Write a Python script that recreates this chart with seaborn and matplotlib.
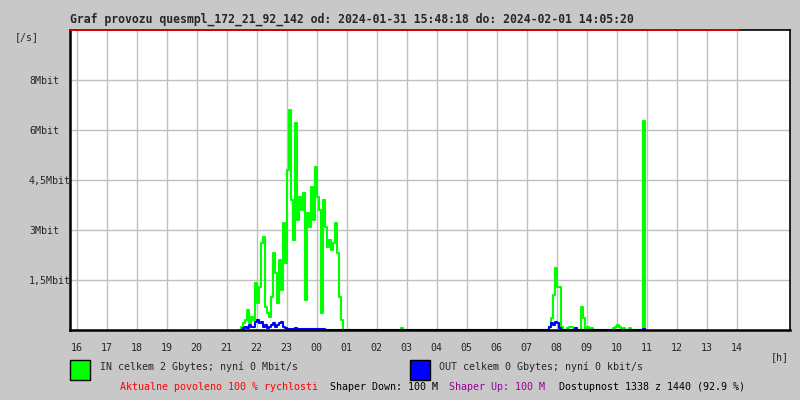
import seaborn as sns
import matplotlib.pyplot as plt
from matplotlib.patches import Rectangle
import pandas as pd

# traffic values in Mbit/s, one sample every 4 minutes
period_start = "2024-01-31 15:48"
period_end = "2024-02-01 14:04"

night_start = "2024-01-31 21:28"
in_night = [0.1, 0.2, 0.3, 0.6, 0.2, 0.4, 0.3, 1.4, 0.8, 1.3,
            2.6, 2.8, 0.7, 0.5, 0.4, 1.0, 2.3, 1.7, 0.8, 2.1,
            1.2, 3.2, 2.0, 4.8, 6.6, 3.9, 2.7, 6.2, 3.3, 4.0,
            3.6, 4.1, 0.9, 3.5, 3.1, 4.3, 3.3, 4.9, 4.0, 3.6,
            0.5, 3.9, 3.1, 2.5, 2.7, 2.4, 2.6, 3.2, 2.3, 1.0,
            0.3, 0.0]
out_night = [0.0, 0.05, 0.1, 0.05, 0.15, 0.1, 0.1, 0.25, 0.3, 0.2,
             0.25, 0.1, 0.15, 0.05, 0.1, 0.15, 0.2, 0.1, 0.15, 0.2,
             0.25, 0.1, 0.05, 0.03, 0.03, 0.03, 0.03, 0.05, 0.03, 0.03,
             0.03, 0.03, 0.03, 0.03, 0.03, 0.03, 0.03, 0.03, 0.03, 0.03,
             0.03, 0.03, 0.0, 0.0, 0.0, 0.0, 0.0, 0.0, 0.0, 0.0,
             0.0, 0.0]

blip_start = "2024-02-01 02:48"
in_blip = [0.05, 0.0]
out_blip = [0.0, 0.0]

morning_start = "2024-02-01 07:44"
in_morning = [0.1, 0.35, 1.05, 1.87, 1.3, 1.3, 0.1, 0.0, 0.0, 0.05,
              0.08, 0.1, 0.05, 0.03, 0.0, 0.0, 0.7, 0.35, 0.0, 0.1,
              0.0, 0.05, 0.0]
out_morning = [0.1, 0.2, 0.15, 0.25, 0.2, 0.05, 0.0, 0.0, 0.0, 0.0,
               0.0, 0.0, 0.0, 0.05, 0.0, 0.0, 0.0, 0.0, 0.0, 0.0,
               0.0, 0.0, 0.0]

late_start = "2024-02-01 09:52"
in_late = [0.05, 0.1, 0.15, 0.08, 0.0, 0.05, 0.0, 0.0, 0.05, 0.0,
           0.0, 0.0, 0.0, 0.0, 0.0, 6.27, 0.0]
out_late = [0.0, 0.0, 0.0, 0.0, 0.0, 0.0, 0.0, 0.0, 0.0, 0.0,
            0.0, 0.0, 0.0, 0.0, 0.0, 0.03, 0.0]

hour_labels = ["16", "17", "18", "19", "20", "21", "22", "23", "00", "01", "02",
               "03", "04", "05", "06", "07", "08", "09", "10", "11", "12", "13", "14"]
y_ticks = [1.5, 3, 4.5, 6, 7.5]
y_labels = ["1,5Mbit", "3Mbit", "4,5Mbit", "6Mbit", "8Mbit"]
y_max = 9

title = "Graf provozu quesmpl_172_21_92_142 od: 2024-01-31 15:48:18 do: 2024-02-01 14:05:20"


def build_series(windows):
    grid = pd.date_range(period_start, period_end, freq="4min")
    s = pd.Series(0.0, index=grid)
    for start, vals in windows:
        idx = pd.date_range(start, periods=len(vals), freq="4min")
        s.loc[idx] = vals
    # hide long runs of zero so no coloured line sits on the x axis
    keep = (s != 0) | (s.shift(1, fill_value=0) != 0) | (s.shift(-1, fill_value=0) != 0)
    return s.where(keep)


s_in = build_series([(night_start, in_night), (blip_start, in_blip),
                     (morning_start, in_morning), (late_start, in_late)])
s_out = build_series([(night_start, out_night), (blip_start, out_blip),
                      (morning_start, out_morning), (late_start, out_late)])

origin = pd.Timestamp("2024-01-31 16:00")
df = pd.DataFrame({
    "h": (s_in.index - origin) / pd.Timedelta(hours=1),
    "IN": s_in.values,
    "OUT": s_out.values,
})

sns.set_style("white")
plt.rcParams["font.family"] = ["DejaVu Sans Mono"]
bg = "#c8c8c8"

fig = plt.figure(figsize=(8, 4), dpi=100, facecolor=bg)
ax = fig.add_axes([70 / 800, 70 / 400, 720 / 800, 300 / 400])
ax.set_facecolor("white")

sns.lineplot(data=df, x="h", y="IN", ax=ax, color="#00ff00", lw=1.5,
             drawstyle="steps-post", zorder=3)
sns.lineplot(data=df, x="h", y="OUT", ax=ax, color="#0000ff", lw=1.5,
             drawstyle="steps-post", zorder=4)

# max line on top
end_h = (pd.Timestamp("2024-02-01 14:05:20") - origin) / pd.Timedelta(hours=1)
ax.plot([-0.22, end_h], [y_max, y_max], color="#e00000", lw=1.3, zorder=6, clip_on=False)

ax.set_xlim(-0.22, 23.777)
ax.set_ylim(0, y_max)
ax.set_xticks(range(len(hour_labels)))
ax.set_xticklabels(hour_labels, fontsize=7.2)
ax.set_yticks(y_ticks)
ax.set_yticklabels(y_labels, fontsize=7.2, ha="left")
ax.tick_params(axis="x", length=0, pad=9.5)
ax.tick_params(axis="y", length=0, pad=29.5)
ax.set_xlabel("")
ax.set_ylabel("")
ax.grid(True, color="#c0c0c0", lw=1)
ax.set_axisbelow(True)
for side in ["left", "bottom"]:
    ax.spines[side].set_linewidth(1.8)
for side in ["top", "right"]:
    ax.spines[side].set_linewidth(1.2)
for sp in ax.spines.values():
    sp.set_color("black")
    sp.set_zorder(5)

fig.text(70 / 800, 1 - 19 / 400, title, fontsize=8.3, fontweight="bold", va="center", ha="left")
fig.text(15 / 800, 1 - 37 / 400, "[/s]", fontsize=7.2, va="center", ha="left")
fig.text(771 / 800, 1 - 357 / 400, "[h]", fontsize=7.2, va="center", ha="left")

# legend boxes
fig.patches.append(Rectangle((70 / 800, 1 - 380 / 400), 20 / 800, 20 / 400,
                             transform=fig.transFigure, facecolor="#00ff00",
                             edgecolor="black", lw=1))
fig.patches.append(Rectangle((410 / 800, 1 - 380 / 400), 20 / 800, 20 / 400,
                             transform=fig.transFigure, facecolor="#0000ff",
                             edgecolor="black", lw=1))
fig.text(100 / 800, 1 - 367 / 400, "IN celkem 2 Gbytes; nyní 0 Mbit/s", fontsize=7.2, va="center")
fig.text(439 / 800, 1 - 367 / 400, "OUT celkem 0 Gbytes; nyní 0 kbit/s", fontsize=7.2, va="center")

fig.text(120 / 800, 1 - 387 / 400, "Aktualne povoleno 100 % rychlosti", fontsize=7.2, va="center", color="#ff0000")
fig.text(330 / 800, 1 - 387 / 400, "Shaper Down: 100 M", fontsize=7.2, va="center", color="black")
fig.text(449 / 800, 1 - 387 / 400, "Shaper Up: 100 M", fontsize=7.2, va="center", color="#990099")
fig.text(559 / 800, 1 - 387 / 400, "Dostupnost 1338 z 1440 (92.9 %)", fontsize=7.2, va="center", color="black")

fig.savefig("out.png", dpi=100, facecolor=bg)
